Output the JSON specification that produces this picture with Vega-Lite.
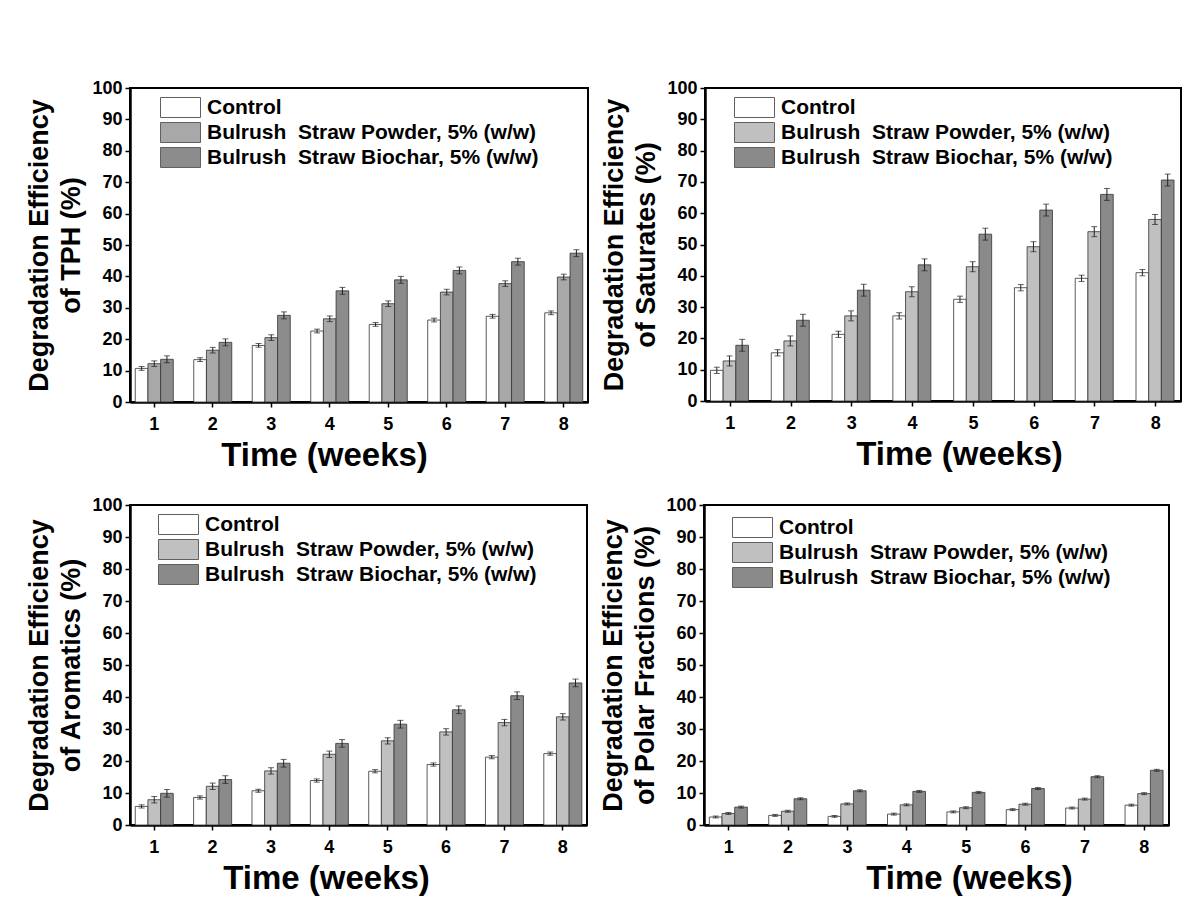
{
  "$schema": "https://vega.github.io/schema/vega-lite/v6.json",
  "padding": {"left": 24, "top": 78, "right": 5, "bottom": 5},
  "background": "white",
  "data": {"values": [
    {"p":"TPH","w":1,"s":"C","v":10.7,"lo":10.1,"hi":11.3},{"p":"TPH","w":1,"s":"P","v":12.2,"lo":11.3,"hi":13.1},{"p":"TPH","w":1,"s":"B","v":13.6,"lo":12.5,"hi":14.7},
    {"p":"TPH","w":2,"s":"C","v":13.5,"lo":12.9,"hi":14.1},{"p":"TPH","w":2,"s":"P","v":16.5,"lo":15.6,"hi":17.4},{"p":"TPH","w":2,"s":"B","v":19.0,"lo":17.9,"hi":20.1},
    {"p":"TPH","w":3,"s":"C","v":18.0,"lo":17.4,"hi":18.6},{"p":"TPH","w":3,"s":"P","v":20.5,"lo":19.6,"hi":21.4},{"p":"TPH","w":3,"s":"B","v":27.6,"lo":26.5,"hi":28.7},
    {"p":"TPH","w":4,"s":"C","v":22.6,"lo":22.0,"hi":23.2},{"p":"TPH","w":4,"s":"P","v":26.5,"lo":25.6,"hi":27.4},{"p":"TPH","w":4,"s":"B","v":35.4,"lo":34.3,"hi":36.5},
    {"p":"TPH","w":5,"s":"C","v":24.7,"lo":24.1,"hi":25.3},{"p":"TPH","w":5,"s":"P","v":31.3,"lo":30.4,"hi":32.2},{"p":"TPH","w":5,"s":"B","v":38.9,"lo":37.8,"hi":40.0},
    {"p":"TPH","w":6,"s":"C","v":26.1,"lo":25.5,"hi":26.7},{"p":"TPH","w":6,"s":"P","v":35.0,"lo":34.1,"hi":35.9},{"p":"TPH","w":6,"s":"B","v":41.9,"lo":40.8,"hi":43.0},
    {"p":"TPH","w":7,"s":"C","v":27.3,"lo":26.7,"hi":27.9},{"p":"TPH","w":7,"s":"P","v":37.7,"lo":36.8,"hi":38.6},{"p":"TPH","w":7,"s":"B","v":44.7,"lo":43.6,"hi":45.8},
    {"p":"TPH","w":8,"s":"C","v":28.4,"lo":27.8,"hi":29.0},{"p":"TPH","w":8,"s":"P","v":39.8,"lo":38.9,"hi":40.7},{"p":"TPH","w":8,"s":"B","v":47.4,"lo":46.3,"hi":48.5},
    {"p":"Sat","w":1,"s":"C","v":9.8,"lo":8.8,"hi":10.8},{"p":"Sat","w":1,"s":"P","v":12.8,"lo":11.2,"hi":14.4},{"p":"Sat","w":1,"s":"B","v":17.8,"lo":15.9,"hi":19.7},
    {"p":"Sat","w":2,"s":"C","v":15.4,"lo":14.4,"hi":16.4},{"p":"Sat","w":2,"s":"P","v":19.2,"lo":17.6,"hi":20.8},{"p":"Sat","w":2,"s":"B","v":25.8,"lo":23.9,"hi":27.7},
    {"p":"Sat","w":3,"s":"C","v":21.3,"lo":20.3,"hi":22.3},{"p":"Sat","w":3,"s":"P","v":27.2,"lo":25.6,"hi":28.8},{"p":"Sat","w":3,"s":"B","v":35.4,"lo":33.5,"hi":37.3},
    {"p":"Sat","w":4,"s":"C","v":27.2,"lo":26.2,"hi":28.2},{"p":"Sat","w":4,"s":"P","v":34.9,"lo":33.3,"hi":36.5},{"p":"Sat","w":4,"s":"B","v":43.5,"lo":41.6,"hi":45.4},
    {"p":"Sat","w":5,"s":"C","v":32.5,"lo":31.5,"hi":33.5},{"p":"Sat","w":5,"s":"P","v":42.9,"lo":41.3,"hi":44.5},{"p":"Sat","w":5,"s":"B","v":53.3,"lo":51.4,"hi":55.2},
    {"p":"Sat","w":6,"s":"C","v":36.2,"lo":35.2,"hi":37.2},{"p":"Sat","w":6,"s":"P","v":49.3,"lo":47.7,"hi":50.9},{"p":"Sat","w":6,"s":"B","v":61.0,"lo":59.1,"hi":62.9},
    {"p":"Sat","w":7,"s":"C","v":39.2,"lo":38.2,"hi":40.2},{"p":"Sat","w":7,"s":"P","v":54.1,"lo":52.5,"hi":55.7},{"p":"Sat","w":7,"s":"B","v":66.0,"lo":64.1,"hi":67.9},
    {"p":"Sat","w":8,"s":"C","v":41.0,"lo":40.0,"hi":42.0},{"p":"Sat","w":8,"s":"P","v":58.0,"lo":56.4,"hi":59.6},{"p":"Sat","w":8,"s":"B","v":70.6,"lo":68.7,"hi":72.5},
    {"p":"Aro","w":1,"s":"C","v":5.8,"lo":5.3,"hi":6.3},{"p":"Aro","w":1,"s":"P","v":7.9,"lo":6.9,"hi":8.9},{"p":"Aro","w":1,"s":"B","v":9.9,"lo":8.7,"hi":11.1},
    {"p":"Aro","w":2,"s":"C","v":8.6,"lo":8.1,"hi":9.1},{"p":"Aro","w":2,"s":"P","v":12.1,"lo":11.1,"hi":13.1},{"p":"Aro","w":2,"s":"B","v":14.2,"lo":13.0,"hi":15.4},
    {"p":"Aro","w":3,"s":"C","v":10.7,"lo":10.2,"hi":11.2},{"p":"Aro","w":3,"s":"P","v":16.9,"lo":15.9,"hi":17.9},{"p":"Aro","w":3,"s":"B","v":19.3,"lo":18.1,"hi":20.5},
    {"p":"Aro","w":4,"s":"C","v":13.9,"lo":13.4,"hi":14.4},{"p":"Aro","w":4,"s":"P","v":22.1,"lo":21.1,"hi":23.1},{"p":"Aro","w":4,"s":"B","v":25.5,"lo":24.3,"hi":26.7},
    {"p":"Aro","w":5,"s":"C","v":16.8,"lo":16.3,"hi":17.3},{"p":"Aro","w":5,"s":"P","v":26.3,"lo":25.3,"hi":27.3},{"p":"Aro","w":5,"s":"B","v":31.5,"lo":30.3,"hi":32.7},
    {"p":"Aro","w":6,"s":"C","v":18.9,"lo":18.4,"hi":19.4},{"p":"Aro","w":6,"s":"P","v":29.1,"lo":28.1,"hi":30.1},{"p":"Aro","w":6,"s":"B","v":36.0,"lo":34.8,"hi":37.2},
    {"p":"Aro","w":7,"s":"C","v":21.2,"lo":20.7,"hi":21.7},{"p":"Aro","w":7,"s":"P","v":32.0,"lo":31.0,"hi":33.0},{"p":"Aro","w":7,"s":"B","v":40.4,"lo":39.2,"hi":41.6},
    {"p":"Aro","w":8,"s":"C","v":22.3,"lo":21.8,"hi":22.8},{"p":"Aro","w":8,"s":"P","v":33.8,"lo":32.8,"hi":34.8},{"p":"Aro","w":8,"s":"B","v":44.4,"lo":43.2,"hi":45.6},
    {"p":"Pol","w":1,"s":"C","v":2.5,"lo":2.2,"hi":2.8},{"p":"Pol","w":1,"s":"P","v":3.6,"lo":3.3,"hi":3.9},{"p":"Pol","w":1,"s":"B","v":5.6,"lo":5.3,"hi":5.9},
    {"p":"Pol","w":2,"s":"C","v":3.0,"lo":2.7,"hi":3.3},{"p":"Pol","w":2,"s":"P","v":4.3,"lo":4.0,"hi":4.6},{"p":"Pol","w":2,"s":"B","v":8.2,"lo":7.9,"hi":8.5},
    {"p":"Pol","w":3,"s":"C","v":2.7,"lo":2.4,"hi":3.0},{"p":"Pol","w":3,"s":"P","v":6.6,"lo":6.3,"hi":6.9},{"p":"Pol","w":3,"s":"B","v":10.7,"lo":10.4,"hi":11.0},
    {"p":"Pol","w":4,"s":"C","v":3.4,"lo":3.1,"hi":3.7},{"p":"Pol","w":4,"s":"P","v":6.3,"lo":6.0,"hi":6.6},{"p":"Pol","w":4,"s":"B","v":10.5,"lo":10.2,"hi":10.8},
    {"p":"Pol","w":5,"s":"C","v":4.1,"lo":3.8,"hi":4.4},{"p":"Pol","w":5,"s":"P","v":5.4,"lo":5.1,"hi":5.7},{"p":"Pol","w":5,"s":"B","v":10.2,"lo":9.9,"hi":10.5},
    {"p":"Pol","w":6,"s":"C","v":4.8,"lo":4.5,"hi":5.1},{"p":"Pol","w":6,"s":"P","v":6.5,"lo":6.2,"hi":6.8},{"p":"Pol","w":6,"s":"B","v":11.4,"lo":11.1,"hi":11.7},
    {"p":"Pol","w":7,"s":"C","v":5.3,"lo":5.0,"hi":5.6},{"p":"Pol","w":7,"s":"P","v":8.1,"lo":7.8,"hi":8.4},{"p":"Pol","w":7,"s":"B","v":15.1,"lo":14.8,"hi":15.4},
    {"p":"Pol","w":8,"s":"C","v":6.2,"lo":5.9,"hi":6.5},{"p":"Pol","w":8,"s":"P","v":9.8,"lo":9.5,"hi":10.1},{"p":"Pol","w":8,"s":"B","v":17.1,"lo":16.8,"hi":17.4}
  ]},
  "resolve": {"scale": {"fill": "independent"}, "legend": {"fill": "independent"}},
  "spacing": 22,
  "vconcat": [
    {
      "spacing": 10,
      "resolve": {"scale": {"fill": "independent"}, "legend": {"fill": "independent"}},
      "hconcat": [
        {
          "width": 458, "height": 314,
          "transform": [{"filter": "datum.p === 'TPH'"}],
          "encoding": {
            "x": {"field": "w", "type": "ordinal", "scale": {"paddingInner": 0.35, "paddingOuter": 0.09}, "axis": {"title": "Time (weeks)", "titleX": 194}},
            "xOffset": {"field": "s", "type": "nominal", "scale": {"domain": ["C", "P", "B"], "paddingInner": 0, "paddingOuter": 0}}
          },
          "layer": [
            {"mark": {"type": "bar", "stroke": "#333", "strokeWidth": 0.8},
             "encoding": {
               "y": {"field": "v", "type": "quantitative", "scale": {"domain": [0, 100]}, "axis": {"title": ["Degradation Efficiency", "of TPH (%)"]}},
               "fill": {"field": "s", "type": "nominal", "scale": {"domain": ["C", "P", "B"], "range": ["#ffffff", "#a8a8a8", "#8c8c8c"]},
                        "legend": {"orient": "none", "legendX": 40, "legendY": 9, "labelExpr": "datum.label === 'C' ? 'Control' : datum.label === 'P' ? 'Bulrush\u00a0 Straw Powder, 5% (w/w)' : 'Bulrush\u00a0 Straw Biochar, 5% (w/w)'"}}
             }},
            {"mark": {"type": "rule", "strokeWidth": 1, "color": "#222"}, "encoding": {"y": {"field": "lo", "type": "quantitative"}, "y2": {"field": "hi"}}},
            {"mark": {"type": "tick", "thickness": 1, "size": 6, "color": "#222"}, "encoding": {"y": {"field": "hi", "type": "quantitative"}}},
            {"mark": {"type": "tick", "thickness": 1, "size": 6, "color": "#222"}, "encoding": {"y": {"field": "lo", "type": "quantitative"}}}
          ]
        },
        {
          "width": 476, "height": 313,
          "transform": [{"filter": "datum.p === 'Sat'"}],
          "encoding": {
            "x": {"field": "w", "type": "ordinal", "scale": {"paddingInner": 0.35, "paddingOuter": 0.09}, "axis": {"title": "Time (weeks)", "titleX": 254}},
            "xOffset": {"field": "s", "type": "nominal", "scale": {"domain": ["C", "P", "B"], "paddingInner": 0, "paddingOuter": 0}}
          },
          "layer": [
            {"mark": {"type": "bar", "stroke": "#333", "strokeWidth": 0.8},
             "encoding": {
               "y": {"field": "v", "type": "quantitative", "scale": {"domain": [0, 100]}, "axis": {"title": ["Degradation Efficiency", "of Saturates (%)"]}},
               "fill": {"field": "s", "type": "nominal", "scale": {"domain": ["C", "P", "B"], "range": ["#ffffff", "#c0c0c0", "#8a8a8a"]},
                        "legend": {"orient": "none", "legendX": 39, "legendY": 9, "labelExpr": "datum.label === 'C' ? 'Control' : datum.label === 'P' ? 'Bulrush\u00a0 Straw Powder, 5% (w/w)' : 'Bulrush\u00a0 Straw Biochar, 5% (w/w)'"}}
             }},
            {"mark": {"type": "rule", "strokeWidth": 1, "color": "#222"}, "encoding": {"y": {"field": "lo", "type": "quantitative"}, "y2": {"field": "hi"}}},
            {"mark": {"type": "tick", "thickness": 1, "size": 6, "color": "#222"}, "encoding": {"y": {"field": "hi", "type": "quantitative"}}},
            {"mark": {"type": "tick", "thickness": 1, "size": 6, "color": "#222"}, "encoding": {"y": {"field": "lo", "type": "quantitative"}}}
          ]
        }
      ]
    },
    {
      "spacing": 10,
      "resolve": {"scale": {"fill": "independent"}, "legend": {"fill": "independent"}},
      "hconcat": [
        {
          "width": 457, "height": 320,
          "transform": [{"filter": "datum.p === 'Aro'"}],
          "encoding": {
            "x": {"field": "w", "type": "ordinal", "scale": {"paddingInner": 0.35, "paddingOuter": 0.09}, "axis": {"title": "Time (weeks)", "titleX": 196}},
            "xOffset": {"field": "s", "type": "nominal", "scale": {"domain": ["C", "P", "B"], "paddingInner": 0, "paddingOuter": 0}}
          },
          "layer": [
            {"mark": {"type": "bar", "stroke": "#333", "strokeWidth": 0.8},
             "encoding": {
               "y": {"field": "v", "type": "quantitative", "scale": {"domain": [0, 100]}, "axis": {"title": ["Degradation Efficiency", "of Aromatics (%)"]}},
               "fill": {"field": "s", "type": "nominal", "scale": {"domain": ["C", "P", "B"], "range": ["#ffffff", "#c0c0c0", "#8a8a8a"]},
                        "legend": {"orient": "none", "legendX": 38, "legendY": 9, "labelExpr": "datum.label === 'C' ? 'Control' : datum.label === 'P' ? 'Bulrush\u00a0 Straw Powder, 5% (w/w)' : 'Bulrush\u00a0 Straw Biochar, 5% (w/w)'"}}
             }},
            {"mark": {"type": "rule", "strokeWidth": 1, "color": "#222"}, "encoding": {"y": {"field": "lo", "type": "quantitative"}, "y2": {"field": "hi"}}},
            {"mark": {"type": "tick", "thickness": 1, "size": 6, "color": "#222"}, "encoding": {"y": {"field": "hi", "type": "quantitative"}}},
            {"mark": {"type": "tick", "thickness": 1, "size": 6, "color": "#222"}, "encoding": {"y": {"field": "lo", "type": "quantitative"}}}
          ]
        },
        {
          "width": 465, "height": 320,
          "transform": [{"filter": "datum.p === 'Pol'"}],
          "encoding": {
            "x": {"field": "w", "type": "ordinal", "scale": {"paddingInner": 0.35, "paddingOuter": 0.09}, "axis": {"title": "Time (weeks)", "titleX": 265}},
            "xOffset": {"field": "s", "type": "nominal", "scale": {"domain": ["C", "P", "B"], "paddingInner": 0, "paddingOuter": 0}}
          },
          "layer": [
            {"mark": {"type": "bar", "stroke": "#333", "strokeWidth": 0.8},
             "encoding": {
               "y": {"field": "v", "type": "quantitative", "scale": {"domain": [0, 100]}, "axis": {"title": ["Degradation Efficiency", "of Polar Fractions (%)"]}},
               "fill": {"field": "s", "type": "nominal", "scale": {"domain": ["C", "P", "B"], "range": ["#ffffff", "#c0c0c0", "#8a8a8a"]},
                        "legend": {"orient": "none", "legendX": 38, "legendY": 12, "labelExpr": "datum.label === 'C' ? 'Control' : datum.label === 'P' ? 'Bulrush\u00a0 Straw Powder, 5% (w/w)' : 'Bulrush\u00a0 Straw Biochar, 5% (w/w)'"}}
             }},
            {"mark": {"type": "rule", "strokeWidth": 1, "color": "#222"}, "encoding": {"y": {"field": "lo", "type": "quantitative"}, "y2": {"field": "hi"}}},
            {"mark": {"type": "tick", "thickness": 1, "size": 6, "color": "#222"}, "encoding": {"y": {"field": "hi", "type": "quantitative"}}},
            {"mark": {"type": "tick", "thickness": 1, "size": 6, "color": "#222"}, "encoding": {"y": {"field": "lo", "type": "quantitative"}}}
          ]
        }
      ]
    }
  ],
  "config": {
    "view": {"stroke": "#000", "strokeWidth": 2},
    "font": "Liberation Sans",
    "axis": {
      "grid": false,
      "domainColor": "#000", "domainWidth": 2.5,
      "tickColor": "#000", "tickWidth": 1.5, "tickSize": 5,
      "labelFont": "Liberation Sans", "labelFontWeight": "bold", "labelFontSize": 18, "labelColor": "#000", "labelPadding": 3,
      "titleFont": "Liberation Sans", "titleFontWeight": "bold", "titleColor": "#000"
    },
    "axisX": {"labelAngle": 0, "labelPadding": 8, "titleFontSize": 33, "titlePadding": 6},
    "axisY": {"values": [0, 10, 20, 30, 40, 50, 60, 70, 80, 90, 100], "titleFontSize": 27, "titleLineHeight": 32, "titlePadding": 6},
    "legend": {
      "title": null,
      "symbolType": "M-4,-2H4V2H-4Z",
      "symbolSize": 100,
      "symbolStrokeColor": "#606060",
      "symbolStrokeWidth": 1,
      "labelFont": "Liberation Sans", "labelFontWeight": "bold", "labelFontSize": 21, "labelColor": "#000",
      "labelOffset": 16, "rowPadding": 0,
      "labelLimit": 600
    }
  }
}
